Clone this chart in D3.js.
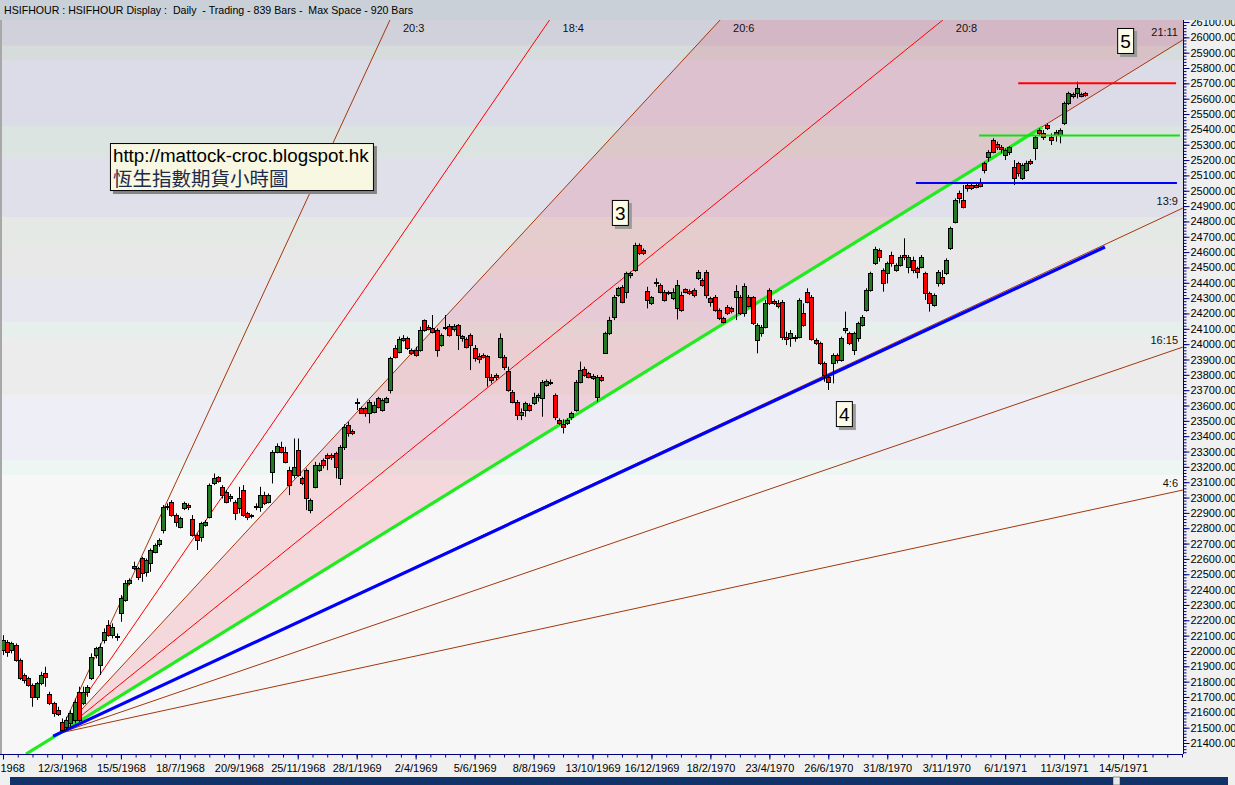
<!DOCTYPE html>
<html><head><meta charset="utf-8">
<script src="https://cdn.jsdelivr.net/npm/d3@7"></script>
<style>
body{margin:0;background:#f0f0f0;overflow:hidden}
svg{display:block}
text{font-family:Arial,"Liberation Sans",sans-serif}
</style></head><body>
<svg id="c" width="1235" height="785"></svg>
<script>
// ---------------- DATA ----------------
const opens=[22006,22060,22006,22038,21941,21843,21821,21777,21701,21788,21854,21719,21658,21614,21538,21506,21528,21549,21734,21658,21734,21821,21973,21908,22071,22169,22103,22097,22245,22332,22440,22553,22538,22603,22516,22571,22647,22697,22788,22936,22973,22886,22810,22929,22951,22857,22755,22745,22821,22875,23092,23131,23070,23038,23010,22973,22929,23049,22897,22886,22944,22936,23016,22973,23168,23299,23331,23299,23179,23146,23309,23125,23179,22918,23070,23179,23244,23277,23277,23288,23125,23331,23473,23436,23620,23581,23581,23549,23560,23646,23570,23625,23701,23972,23951,24038,24038,23962,23962,23962,24157,24114,24103,24092,23994,24103,24118,24096,24125,24053,24031,24059,23972,23922,23929,23922,23788,23797,23918,23918,23827,23690,23625,23538,23570,23603,23614,23657,23646,23733,23755,23668,23505,23480,23484,23527,23570,23755,23836,23809,23792,23657,23788,23940,24070,24179,24320,24374,24342,24450,24483,24646,24613,24344,24266,24396,24385,24342,24342,24298,24233,24320,24357,24348,24353,24429,24418,24472,24298,24309,24222,24168,24240,24233,24309,24305,24201,24309,24305,24027,24070,24114,24353,24283,24270,24277,24049,24038,24049,24049,24201,24342,24309,24027,24005,23875,23788,23875,23929,23896,24092,24070,23962,24038,24125,24223,24353,24527,24614,24483,24462,24581,24483,24516,24581,24505,24548,24494,24505,24462,24331,24255,24396,24440,24462,24624,24798,24983,24940,25037,25037,25037,25048,25179,25218,25331,25305,25287,25233,25255,25157,25179,25081,25135,25196,25276,25396,25374,25428,25352,25385,25363,25439,25570,25631,25635,25631,25635];
const highs=[22103,22071,22060,22049,21951,21854,21832,21788,21799,21864,21897,21734,21669,21636,21560,21571,21614,21690,21767,21767,21777,21984,22027,22049,22147,22201,22180,22114,22364,22462,22473,22582,22549,22614,22603,22668,22701,22734,22951,22962,22983,22897,22875,22973,22962,22886,22766,22842,22853,23092,23157,23140,23081,23049,23023,22983,23070,23081,22907,22892,22962,23070,23038,23027,23309,23353,23364,23331,23201,23385,23385,23136,23190,22994,23233,23227,23255,23288,23288,23299,23342,23478,23494,23444,23646,23592,23592,23636,23625,23657,23646,23657,23918,23994,24049,24059,24049,23972,23983,24114,24161,24125,24190,24103,24070,24190,24131,24131,24131,24059,24044,24070,23994,23940,23940,23929,23805,23809,24070,23929,23853,23701,23636,23581,23625,23614,23683,23679,23766,23770,23770,23679,23516,23510,23516,23560,23766,23886,23853,23820,23805,23799,23799,24081,24179,24320,24374,24385,24472,24472,24661,24657,24624,24374,24313,24429,24396,24353,24348,24364,24418,24342,24364,24357,24364,24483,24429,24483,24309,24320,24233,24179,24255,24244,24385,24320,24396,24320,24313,24136,24125,24288,24364,24292,24288,24288,24081,24092,24059,24299,24266,24364,24320,24038,24016,23886,23799,23940,23940,24049,24212,24081,24081,24146,24190,24364,24472,24635,24624,24494,24538,24603,24527,24581,24690,24581,24570,24505,24581,24472,24342,24331,24483,24483,24559,24766,24950,25001,25037,25048,25048,25053,25081,25189,25265,25342,25320,25298,25276,25291,25200,25189,25179,25196,25205,25363,25407,25396,25439,25374,25396,25407,25581,25646,25640,25711,25640,25644];
const lows=[21973,21962,21984,21930,21810,21788,21767,21636,21680,21777,21767,21647,21571,21576,21473,21484,21506,21528,21538,21647,21701,21810,21951,21843,22049,22093,22082,22066,22190,22321,22429,22527,22462,22451,22484,22516,22636,22679,22766,22918,22875,22810,22799,22918,22918,22745,22658,22712,22810,22864,23081,23097,22994,22962,22973,22853,22897,22875,22853,22864,22918,22907,22951,22962,23092,23288,23288,23223,23016,23125,23136,23081,22918,22897,23060,23168,23190,23179,23245,23125,23081,23310,23397,23407,23570,23545,23527,23484,23549,23581,23560,23614,23679,23907,23940,24016,23962,23929,23918,23951,24081,24090,24070,23918,23983,24092,24049,24081,23962,24016,23972,23831,23886,23875,23907,23723,23744,23766,23907,23831,23690,23614,23505,23505,23527,23560,23603,23625,23527,23723,23733,23505,23473,23418,23473,23505,23560,23744,23788,23777,23766,23625,23755,23936,24059,24157,24309,24266,24298,24429,24472,24581,24581,24233,24255,24374,24331,24277,24320,24287,24161,24211,24331,24320,24305,24418,24374,24298,24244,24211,24157,24135,24190,24201,24157,24190,24179,24240,24125,23940,24049,24103,24255,24255,24233,24027,23994,23983,24016,24038,24114,24266,24023,23994,23864,23755,23701,23744,23875,23886,24070,23994,23929,24016,24114,24212,24342,24516,24538,24342,24396,24505,24472,24505,24548,24462,24462,24429,24494,24288,24212,24244,24375,24385,24451,24614,24787,24918,24885,24994,25005,25016,25022,25113,25189,25244,25265,25244,25200,25233,25037,25092,25070,25124,25168,25200,25363,25331,25396,25298,25320,25309,25428,25559,25602,25602,25609,25613];
const closes=[22071,21995,22049,21941,21821,21810,21777,21701,21788,21843,21832,21658,21593,21589,21484,21549,21593,21669,21549,21734,21767,21958,22017,22027,22125,22103,22158,22088,22342,22440,22462,22538,22484,22505,22592,22658,22690,22723,22936,22944,22886,22842,22864,22962,22936,22755,22723,22831,22842,23081,23125,23109,23016,22973,22994,22897,22994,22886,22875,22879,22936,23016,22962,23016,23299,23336,23299,23233,23081,23201,23146,23092,22994,22983,23212,23212,23212,23255,23262,23201,23331,23462,23418,23422,23625,23553,23549,23625,23603,23592,23636,23646,23907,23918,24031,24027,23972,23944,23929,24092,24092,24096,24081,23962,24059,24114,24059,24118,24059,24038,23983,23994,23907,23901,23918,23788,23766,23788,24038,23853,23701,23625,23538,23560,23614,23570,23657,23668,23755,23762,23744,23527,23484,23458,23505,23549,23755,23831,23799,23788,23777,23788,23766,24070,24157,24309,24364,24277,24461,24461,24646,24592,24596,24287,24305,24407,24342,24287,24331,24342,24385,24222,24342,24331,24320,24472,24385,24320,24277,24222,24168,24146,24205,24218,24348,24201,24379,24248,24135,24125,24114,24266,24266,24266,24249,24049,24031,24075,24038,24288,24125,24277,24031,24010,23875,23799,23755,23929,23896,24038,24103,24005,24075,24136,24179,24353,24462,24618,24570,24396,24527,24527,24516,24566,24570,24570,24483,24472,24570,24331,24266,24320,24472,24396,24548,24755,24940,24950,24896,25016,25016,25027,25031,25135,25255,25255,25287,25270,25265,25283,25081,25113,25168,25183,25183,25352,25379,25352,25407,25331,25363,25396,25570,25635,25618,25667,25618,25622];

const dateLabels=["1968","12/3/1968","15/5/1968","18/7/1968","20/9/1968","25/11/1968","28/1/1969","2/4/1969","5/6/1969","8/8/1969","13/10/1969","16/12/1969","18/2/1970","23/4/1970","26/6/1970","31/8/1970","3/11/1970","6/1/1971","11/3/1971","14/5/1971"];
const dateBars=[0,14,28,42,56,70,84,98,112,126,140,154,168,182,196,210,224,238,252,266];

const fanNames=["20:3","18:4","20:6","20:8","21:11","13:9","16:15","4:6"];
const fanEndBar=[91.9,129.8,170.3,223.2,280.2,280.2,280.2,280.2];
const fanEndPrice=[26113,26113,26113,26113,25983,24887,23981,23049];
const fanOrigin={bar:13.5,price:21465};
const fanColors=["#a3380c","#ff0000","#a3380c","#ff0000","#a3380c","#a3380c","#a3380c","#a3380c"];

const trendNames=["green","blue"];
const trendStartBar=[5.46,11.9], trendStartPrice=[21328,21445];
const trendEndBar=[246.8,261.7], trendEndPrice=[25415,24633];
const trendColors=["#1eec1e","#0000ff"];

const levelPrices=[25700,25360,25050];
const levelStartBar=[241.1,231.8,216.8], levelEndBar=[278.6,279.5,278.8];
const levelColors=["#ff0000","#10e010","#0000ff"];

const bandTop=[26113,25944,25852,25422,25213,24829,24633,24438,24144,24047,23668,23245,23147];
const bandColors=["#d1d1dc","#d5dcdb","#dcdce8","#dce4e1","#e0e0eb","#e5e9e5","#e8e8e8","#e7e7f0","#e7efec","#ececec","#eeeef6","#eef6f4","#f7f7f7"];

const waveLabels=["3","4","5"];
const waveBar=[144.6,197.8,264.6], wavePrice=[24940,23629,26061];

// ---------------- SCALES ----------------
const svg=d3.select("#c");
const P={l:2,r:1183,t:20,b:754};
const x=d3.scaleLinear().domain([0,280]).range([3,1182]);
const y=d3.scaleLinear().domain([21400,26100]).range([743,22]);
const yMin=y.invert(P.b);

svg.append("rect").attr("width",1235).attr("height",785).attr("fill","#f0f0f0");
svg.append("defs").append("clipPath").attr("id","pc").append("rect")
  .attr("x",P.l).attr("y",P.t).attr("width",P.r-P.l).attr("height",P.b-P.t);
const g=svg.append("g").attr("clip-path","url(#pc)");

// bands
bandTop.forEach((t,i)=>{
  const b=i<bandTop.length-1?bandTop[i+1]:yMin;
  g.append("rect").attr("x",P.l).attr("width",P.r-P.l)
   .attr("y",y(t)).attr("height",y(b)-y(t)).attr("fill",bandColors[i]);
});

// pink fan zone
const poly=[[fanOrigin.bar,fanOrigin.price],[fanEndBar[2],fanEndPrice[2]],[281,fanEndPrice[2]],[fanEndBar[4],fanEndPrice[4]]];
g.append("path").attr("d",d3.line().x(d=>x(d[0])).y(d=>y(d[1]))(poly)+"Z")
 .attr("fill","rgba(228,40,70,0.15)");

// fan lines
fanNames.forEach((n,i)=>{
  g.append("line").attr("x1",x(fanOrigin.bar)).attr("y1",y(fanOrigin.price))
   .attr("x2",x(fanEndBar[i])).attr("y2",y(fanEndPrice[i]))
   .attr("stroke",fanColors[i]).attr("stroke-width",1);
});
// trend lines
trendNames.forEach((n,i)=>{
  g.append("line").attr("x1",x(trendStartBar[i])).attr("y1",y(trendStartPrice[i]))
   .attr("x2",x(trendEndBar[i])).attr("y2",y(trendEndPrice[i]))
   .attr("stroke",trendColors[i]).attr("stroke-width",3.2);
});

// candles
const cg=g.append("g");
opens.forEach((o,i)=>{
  const c=closes[i], cx=Math.round(x(i));
  cg.append("line").attr("x1",cx+0.5).attr("x2",cx+0.5).attr("y1",y(highs[i])).attr("y2",y(lows[i]))
    .attr("stroke","#000").attr("stroke-width",1);
  const top=Math.round(y(Math.max(o,c)))+0.5, bot=Math.round(y(Math.min(o,c)))+0.5;
  cg.append("rect").attr("x",cx-1.5).attr("y",top).attr("width",4).attr("height",Math.max(1,bot-top))
    .attr("fill",c>=o?"#237a23":"#ff0000").attr("stroke","#000").attr("stroke-width",1);
});

// horizontal levels
levelPrices.forEach((p,i)=>{
  g.append("line").attr("x1",x(levelStartBar[i])).attr("x2",x(levelEndBar[i]))
   .attr("y1",y(p)).attr("y2",y(p)).attr("stroke",levelColors[i]).attr("stroke-width",2);
});

// fan labels
fanNames.forEach((n,i)=>{
  const ex=x(fanEndBar[i]), ey=y(fanEndPrice[i]);
  if(ey<=P.t+1){
    svg.append("text").attr("x",ex+13).attr("y",32).attr("font-size",11).attr("fill","#111").text(n);
  } else {
    svg.append("text").attr("x",1178).attr("y",ey-3.5).attr("text-anchor","end").attr("font-size",11).attr("fill","#111").text(n);
  }
});

// wave label boxes
waveLabels.forEach((t,i)=>{
  const bx=x(waveBar[i]), by=y(wavePrice[i]);
  svg.append("rect").attr("x",bx+3).attr("y",by+3).attr("width",17).attr("height",26).attr("fill","#9a9a9a");
  svg.append("rect").attr("x",bx+0.5).attr("y",by+0.5).attr("width",16).attr("height",25).attr("fill","#fbfbe8").attr("stroke","#000");
  svg.append("text").attr("x",bx+8.5).attr("y",by+20).attr("text-anchor","middle").attr("font-size",19).attr("fill","#000").text(t);
});

// url box
const ub={x:x(25.4),y:y(25311)};
svg.append("rect").attr("x",ub.x+3).attr("y",ub.y+3).attr("width",264).attr("height",48).attr("fill","#858585");
svg.append("rect").attr("x",ub.x+0.5).attr("y",ub.y+0.5).attr("width",263).attr("height",47).attr("fill","#f8f7e2").attr("stroke","#000");
svg.append("text").attr("x",ub.x+3).attr("y",ub.y+18.5).attr("font-size",18.8).attr("fill","#000").text("http://mattock-croc.blogspot.hk");
svg.append("text").attr("x",ub.x+3).attr("y",ub.y+43).attr("font-size",19.5).attr("fill","#1c2c4c")
  .style("font-family","'Noto Sans CJK TC','Noto Sans CJK SC',sans-serif").text("恆生指數期貨小時圖");

// axes
const axc="#000080";
svg.append("line").attr("x1",P.r+0.5).attr("x2",P.r+0.5).attr("y1",P.t).attr("y2",P.b).attr("stroke",axc);
svg.append("line").attr("x1",0).attr("x2",P.r).attr("y1",P.b+0.5).attr("y2",P.b+0.5).attr("stroke",axc);
const yTicks=d3.range(21400,26101,100), yMinor=d3.range(21340,26101,20);
const ay=svg.append("g").attr("transform",`translate(${P.r+0.5},0)`)
  .call(d3.axisRight(y).tickValues(yMinor).tickSize(3).tickFormat(""));
ay.select(".domain").remove(); ay.selectAll("line").attr("stroke",axc);
const ay2=svg.append("g").attr("transform",`translate(${P.r+0.5},0)`)
  .call(d3.axisRight(y).tickValues(yTicks).tickSize(6).tickPadding(1).tickFormat(d3.format(".2f")));
ay2.select(".domain").remove(); ay2.selectAll("line").attr("stroke",axc);
ay2.selectAll("text").attr("font-size",11).attr("fill","#000").style("font-family","Arial,'Liberation Sans',sans-serif");

const xMinor=d3.range(0,281,3.5);
const ax=svg.append("g").attr("transform",`translate(0,${P.b+0.5})`)
  .call(d3.axisBottom(x).tickValues(xMinor).tickSize(3).tickFormat(""));
ax.select(".domain").remove(); ax.selectAll("line").attr("stroke",axc);
const ax2=svg.append("g").attr("transform",`translate(0,${P.b+0.5})`)
  .call(d3.axisBottom(x).tickValues(dateBars).tickSize(5).tickPadding(4.5).tickFormat((d,i)=>dateLabels[i]));
ax2.select(".domain").remove(); ax2.selectAll("line").attr("stroke",axc);
ax2.selectAll("text").attr("font-size",11).attr("fill","#000").style("font-family","Arial,'Liberation Sans',sans-serif");
// first label is shown truncated in the reference: keep it inside the page
ax2.selectAll(".tick").filter(d=>d===dateBars[0]).select("text").attr("text-anchor","start").attr("x",-3);

// left border
svg.append("rect").attr("x",0).attr("y",P.t).attr("width",2).attr("height",P.b-P.t).attr("fill","#a8a8a8");

// header
svg.append("rect").attr("x",0).attr("y",0).attr("width",1235).attr("height",P.t).attr("fill","#c9d0d7");
svg.append("text").attr("x",4).attr("y",13.5).attr("font-size",10.6).attr("fill","#000")
  .attr("xml:space","preserve").style("white-space","pre")
  .text("HSIFHOUR : HSIFHOUR Display :  Daily  - Trading - 839 Bars -  Max Space - 920 Bars");

// bottom scroll bar
svg.append("rect").attr("x",10).attr("y",777).attr("width",1218).attr("height",8).attr("fill","#12326a");
svg.append("rect").attr("x",1113).attr("y",777).attr("width",7).attr("height",8).attr("fill","#e8e8e8").attr("stroke","#333").attr("stroke-width",0.5);
</script>
</body></html>
